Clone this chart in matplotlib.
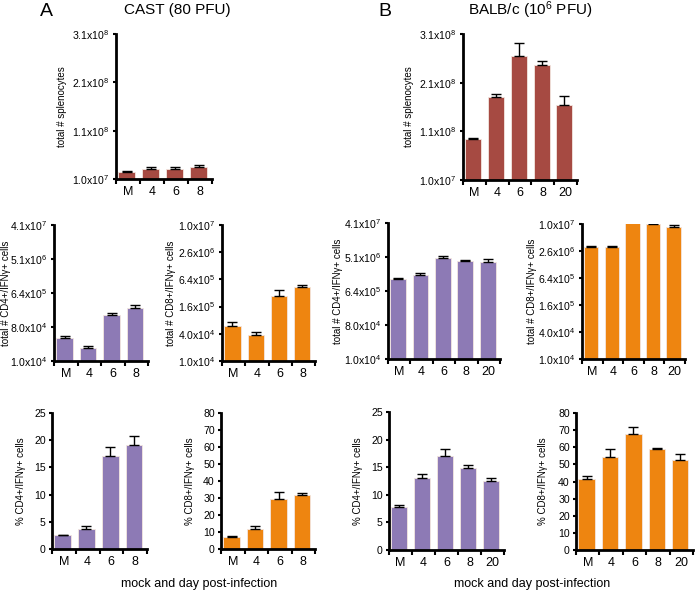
#!/usr/bin/env python3
"""Splenocyte and IFNg+ T cell counts, CAST vs BALB/c, mock and days post-infection."""
import matplotlib
matplotlib.use("Agg")
import matplotlib.pyplot as plt
import numpy as np

plt.rcParams["font.family"] = ["Liberation Sans", "DejaVu Sans"]
plt.rcParams["mathtext.fontset"] = "custom"
plt.rcParams["mathtext.rm"] = "Liberation Sans"
plt.rcParams["mathtext.it"] = "Liberation Sans:italic"

# categories
cast_days = ["M", "4", "6", "8"]
balb_days = ["M", "4", "6", "8", "20"]

# total splenocytes (mean, upper error)
cast_spleno = [2.4e7, 3.0e7, 3.0e7, 3.4e7]
cast_spleno_err = [0.3e7, 0.55e7, 0.5e7, 0.4e7]
balb_spleno = [9.4e7, 1.80e8, 2.65e8, 2.46e8, 1.65e8]
balb_spleno_err = [0.2e7, 0.7e7, 2.6e7, 0.9e7, 1.8e7]

# total CD4+/IFNg+ cells
cast_cd4_tot = [4.2e4, 2.2e4, 1.7e5, 2.6e5]
cast_cd4_tot_hi = [4.6e4, 2.55e4, 1.9e5, 3.0e5]
balb_cd4_tot = [1.34e6, 1.7e6, 4.7e6, 3.9e6, 3.8e6]
balb_cd4_tot_hi = [1.45e6, 1.9e6, 5.6e6, 4.15e6, 4.5e6]

# total CD8+/IFNg+ cells
cast_cd8_tot = [6.0e4, 3.7e4, 2.8e5, 4.4e5]
cast_cd8_tot_hi = [7.2e4, 4.3e4, 3.7e5, 4.8e5]
balb_cd8_tot = [3.1e6, 3.1e6, 1.2e7, 1.02e7, 9.0e6]
balb_cd8_tot_hi = [3.3e6, 3.3e6, 1.2e7, 1.07e7, 9.8e6]

# percent CD4+/IFNg+ and CD8+/IFNg+
cast_cd4_pct = [2.5, 3.6, 17.1, 19.1]
cast_cd4_pct_err = [0.1, 0.6, 1.7, 1.7]
balb_cd4_pct = [7.8, 13.1, 17.1, 14.9, 12.5]
balb_cd4_pct_err = [0.3, 0.6, 1.2, 0.5, 0.6]
cast_cd8_pct = [7.0, 11.5, 29.5, 32.0]
cast_cd8_pct_err = [0.8, 1.8, 4.0, 0.8]
balb_cd8_pct = [41.5, 54.5, 68.0, 58.7, 52.5]
balb_cd8_pct_err = [1.5, 4.5, 4.0, 0.8, 3.5]

# axis tick labels
spleno_ticks = [1e7, 1.1e8, 2.1e8, 3.1e8]
spleno_labels = [r"1.0x10$^{7}$", r"1.1x10$^{8}$", r"2.1x10$^{8}$", r"3.1x10$^{8}$"]
cd4_ticks = [1e4 * 8 ** k for k in range(5)]
cd4_labels = [r"1.0x10$^{4}$", r"8.0x10$^{4}$", r"6.4x10$^{5}$", r"5.1x10$^{6}$", r"4.1x10$^{7}$"]
cd8_ticks = [1e4 * 4 ** k for k in range(6)]
cd8_labels = [r"1.0x10$^{4}$", r"4.0x10$^{4}$", r"1.6x10$^{5}$", r"6.4x10$^{5}$",
              r"2.6x10$^{6}$", r"1.0x10$^{7}$"]

RED = "#a64a42"
PURPLE = "#8d7ab5"
ORANGE = "#ee8510"

W, H = 696, 593
fig = plt.figure(figsize=(W / 100, H / 100), dpi=100)


def box(x0, x1, ytop, ybot):
    return [x0 / W, 1 - ybot / H, (x1 - x0) / W, (ybot - ytop) / H]


def panel(rect, cats, vals, hi, color, ylabel, ylim, ticks, labels=None, log=False,
          label_off=50, ysize=7.6, xsize=9.0):
    ax = fig.add_axes(rect)
    x = np.arange(len(cats)) - 0.05
    vals = np.asarray(vals, dtype=float)
    up = np.asarray(hi, dtype=float) - vals
    bottom = ylim[0]
    ax.bar(x, vals - bottom, bottom=bottom, width=0.7, color=color,
           edgecolor="#f3e6e0", linewidth=0.6, zorder=2)
    ax.errorbar(x, vals, yerr=[np.zeros_like(up), up], fmt="none", ecolor="black",
                elinewidth=1.0, capsize=3.5, capthick=1.0, zorder=3)
    if log:
        ax.set_yscale("log")
    ax.set_ylim(*ylim)
    ax.set_xlim(-0.5, len(cats) - 0.5)
    ax.set_yticks(ticks)
    ax.set_yticklabels(labels if labels is not None else [str(t) for t in ticks])
    ax.yaxis.set_minor_locator(matplotlib.ticker.NullLocator())
    ax.set_xticks(np.arange(len(cats)))
    ax.set_xticklabels(cats, fontsize=xsize)
    ax.set_xticks(np.arange(len(cats) + 1) - 0.5, minor=True)
    ax.tick_params(axis="x", which="major", length=0, pad=5)
    ax.tick_params(axis="x", which="minor", length=3.5, width=1.5, direction="out")
    ax.tick_params(axis="y", which="major", length=2.5, width=1.5, direction="out",
                   labelsize=ysize, pad=2)
    for side in ("top", "right"):
        ax.spines[side].set_visible(False)
    for side in ("left", "bottom"):
        ax.spines[side].set_linewidth(2.0)
    ax.set_ylabel(ylabel, fontsize=7.0, va="center")
    ax.yaxis.set_label_coords(-label_off / (rect[2] * W), 0.5)
    return ax


# top row: total splenocytes
panel(box(116, 212, 34, 179), cast_days, cast_spleno,
      np.add(cast_spleno, cast_spleno_err), RED, "total # splenocytes",
      (1e7, 3.1e8), spleno_ticks, spleno_labels, label_off=54)
panel(box(463, 577, 34, 180), balb_days, balb_spleno,
      np.add(balb_spleno, balb_spleno_err), RED, "total # splenocytes",
      (1e7, 3.1e8), spleno_ticks, spleno_labels, label_off=54)

# middle row: total IFNg+ T cells (log)
cd4_tot_lab = "total # CD4+/IFNγ+ cells"
cd8_tot_lab = "total # CD8+/IFNγ+ cells"
panel(box(54, 148, 225, 361), cast_days, cast_cd4_tot, cast_cd4_tot_hi, PURPLE,
      cd4_tot_lab, (1e4, 8 ** 4 * 1e4), cd4_ticks, cd4_labels, log=True, label_off=48)
panel(box(222, 315, 225, 361), cast_days, cast_cd8_tot, cast_cd8_tot_hi, ORANGE,
      cd8_tot_lab, (1e4, 4 ** 5 * 1e4), cd8_ticks, cd8_labels, log=True, label_off=51)
panel(box(388, 500, 223, 359), balb_days, balb_cd4_tot, balb_cd4_tot_hi, PURPLE,
      cd4_tot_lab, (1e4, 8 ** 4 * 1e4), cd4_ticks, cd4_labels, log=True, label_off=50)
panel(box(582, 685, 224, 359), balb_days, balb_cd8_tot, balb_cd8_tot_hi, ORANGE,
      cd8_tot_lab, (1e4, 4 ** 5 * 1e4), cd8_ticks, cd8_labels, log=True, label_off=50)

# bottom row: percent IFNg+
cd4_pct_lab = "% CD4+/IFNγ+ cells"
cd8_pct_lab = "% CD8+/IFNγ+ cells"
panel(box(52, 147, 413, 549), cast_days, cast_cd4_pct,
      np.add(cast_cd4_pct, cast_cd4_pct_err), PURPLE, cd4_pct_lab,
      (0, 25), list(range(0, 26, 5)), label_off=31)
panel(box(221, 315, 413, 549), cast_days, cast_cd8_pct,
      np.add(cast_cd8_pct, cast_cd8_pct_err), ORANGE, cd8_pct_lab,
      (0, 80), list(range(0, 81, 10)), label_off=31)
panel(box(389, 504, 412, 550), balb_days, balb_cd4_pct,
      np.add(balb_cd4_pct, balb_cd4_pct_err), PURPLE, cd4_pct_lab,
      (0, 25), list(range(0, 26, 5)), label_off=31)
panel(box(576, 693, 413, 550), balb_days, balb_cd8_pct,
      np.add(balb_cd8_pct, balb_cd8_pct_err), ORANGE, cd8_pct_lab,
      (0, 80), list(range(0, 81, 10)), label_off=33)

# headings
fig.text(40 / W, 1 - 11 / H, "A", fontsize=14, ha="left", va="center")
fig.text(378 / W, 1 - 11 / H, "B", fontsize=14, ha="left", va="center")
fig.text(177 / W, 1 - 10 / H, "CAST (80 PFU)", fontsize=11, ha="center", va="center")
fig.text(530 / W, 1 - 10 / H, r"BALB/c (10$^{6}$ PFU)", fontsize=11, ha="center", va="center")
fig.text(199 / W, 1 - 584 / H, "mock and day post-infection", fontsize=9,
         ha="center", va="center")
fig.text(532 / W, 1 - 584 / H, "mock and day post-infection", fontsize=9,
         ha="center", va="center")

fig.savefig("out.png", dpi=100)
